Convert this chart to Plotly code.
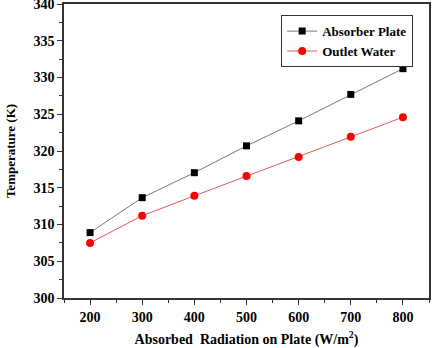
import plotly.graph_objects as go

radiation = [200, 300, 400, 500, 600, 700, 800]
absorber_plate = [308.9, 313.65, 317.05, 320.7, 324.1, 327.7, 331.2]
outlet_water = [307.5, 311.2, 313.9, 316.6, 319.2, 321.95, 324.6]
y_ticks = [300, 305, 310, 315, 320, 325, 330, 335, 340]

font_family = "Liberation Serif"

fig = go.Figure()
fig.add_trace(go.Scatter(
    x=radiation, y=absorber_plate, mode="lines+markers", name="<b>Absorber Plate</b>",
    line=dict(color="#555555", width=0.8),
    marker=dict(symbol="square", size=7, color="black"),
))
fig.add_trace(go.Scatter(
    x=radiation, y=outlet_water, mode="lines+markers", name="<b>Outlet Water</b>",
    line=dict(color="#e03030", width=0.8),
    marker=dict(symbol="circle", size=8, color="red"),
))

axis_common = dict(
    showline=True, linecolor="#333333", linewidth=1.5, mirror=True,
    ticks="outside", ticklen=5, tickwidth=1.2, tickcolor="#333333",
    showgrid=False, zeroline=False, ticklabeloverflow="allow", automargin=False,
    tickfont=dict(family=font_family, size=14, color="black"),
)

fig.update_xaxes(
    range=[150, 850], tickvals=radiation, ticktext=[f"<b>{v}</b>" for v in radiation],
    minor=dict(ticks="outside", ticklen=3, tickcolor="#333333", dtick=50, tick0=150),
    title=dict(text="<b>Absorbed  Radiation on Plate (W/m<sup>2</sup>)</b>",
               font=dict(family=font_family, size=14, color="black")),
    **axis_common,
)
fig.update_yaxes(
    range=[300, 340], tickvals=y_ticks, ticktext=[f"<b>{v}</b>" for v in y_ticks],
    minor=dict(ticks="outside", ticklen=3, tickcolor="#333333", dtick=2.5, tick0=300),
    title=dict(text="<b>Temperature (K)</b>",
               font=dict(family=font_family, size=13, color="black")),
    **axis_common,
)

fig.update_layout(
    width=433, height=348,
    margin=dict(l=64, r=4, t=4, b=50),
    paper_bgcolor="white", plot_bgcolor="white",
    font=dict(family=font_family, color="black"),
    legend=dict(
        x=0.595, y=0.962, xanchor="left", yanchor="top",
        bordercolor="#333333", borderwidth=1, bgcolor="white",
        font=dict(family=font_family, size=13, color="black"),
        tracegroupgap=0, itemwidth=30,
    ),
    showlegend=True,
)

fig.write_html("out.html")
